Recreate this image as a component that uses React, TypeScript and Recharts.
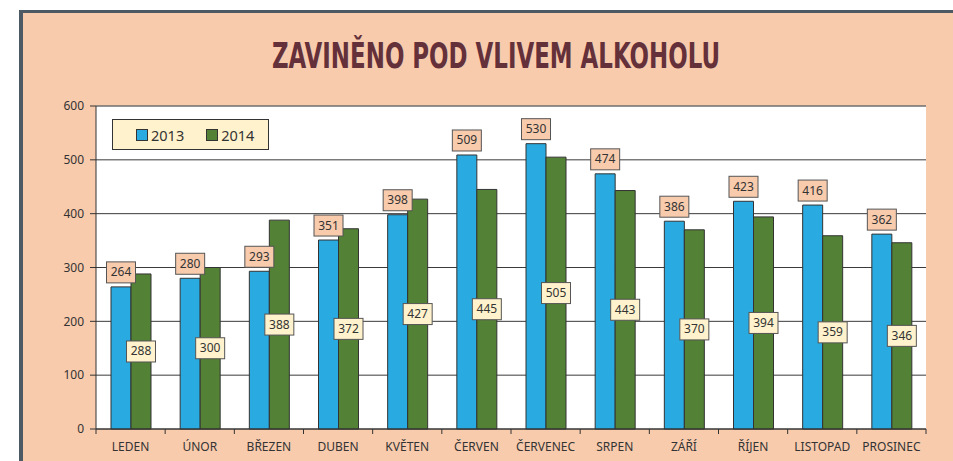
import React from "react";
import {
  BarChart,
  Bar,
  XAxis,
  YAxis,
  CartesianGrid,
  Legend,
  LabelList,
  ReferenceLine,
} from "recharts";

// ---------------------------------------------------------------------------
// Data
// ---------------------------------------------------------------------------

const months = [
  "LEDEN",
  "ÚNOR",
  "BŘEZEN",
  "DUBEN",
  "KVĚTEN",
  "ČERVEN",
  "ČERVENEC",
  "SRPEN",
  "ZÁŘÍ",
  "ŘÍJEN",
  "LISTOPAD",
  "PROSINEC",
];
const values2013 = [264, 280, 293, 351, 398, 509, 530, 474, 386, 423, 416, 362];
const values2014 = [288, 300, 388, 372, 427, 445, 505, 443, 370, 394, 359, 346];
const yTicks = [0, 100, 200, 300, 400, 500, 600];

const title = "ZAVINĚNO POD VLIVEM ALKOHOLU";

const data = months.map((m, i) => ({
  month: m,
  y2013: values2013[i],
  y2014: values2014[i],
}));

// ---------------------------------------------------------------------------
// Styles
// ---------------------------------------------------------------------------

const PEACH = "#F8CBAD";
const CREAM = "#FFF2CC";
const BLUE = "#29ABE2";
const GREEN = "#538135";
const FONT = "'Noto Sans', 'Liberation Sans', sans-serif";

// ---------------------------------------------------------------------------
// Custom pieces
// ---------------------------------------------------------------------------

function TopLabel(props: any) {
  const { x, y, width, value } = props;
  const cx = x + width / 2;
  const w = 29;
  const h = 21;
  const top = y - 4 - h;
  return (
    <g>
      <rect x={cx - w / 2} y={top} width={w} height={h} fill={PEACH} stroke="#555" strokeWidth={1} />
      <text x={cx} y={top + h / 2 + 4} textAnchor="middle" fontSize={12} fontFamily={FONT} fill="#333">
        {value}
      </text>
    </g>
  );
}

function MidLabel(props: any) {
  const { x, y, width, height, value } = props;
  const cx = x + width / 2;
  const cy = y + height / 2;
  const w = 29;
  const h = 21;
  return (
    <g>
      <rect x={cx - w / 2} y={cy - h / 2} width={w} height={h} fill={CREAM} stroke="#555" strokeWidth={1} />
      <text x={cx} y={cy + 4} textAnchor="middle" fontSize={12} fontFamily={FONT} fill="#333">
        {value}
      </text>
    </g>
  );
}

function MonthTick(props: any) {
  const { x, y, payload, index } = props;
  const half = payload?.offset ?? 0;
  const axisY = y - 10;
  return (
    <g>
      <line x1={x - half} x2={x - half} y1={axisY} y2={axisY + 5} stroke="#333" />
      {index === months.length - 1 && (
        <line x1={x + half} x2={x + half} y1={axisY} y2={axisY + 5} stroke="#333" />
      )}
      <text x={x} y={y + 12} textAnchor="middle" fontSize={12} fontFamily={FONT} fill="#333">
        {payload.value}
      </text>
    </g>
  );
}

function LegendBox() {
  const item = (color: string, label: string, gap: number) => (
    <span style={{ display: "inline-flex", alignItems: "center", marginRight: gap, flexShrink: 0 }}>
      <span
        style={{
          display: "inline-block",
          width: 10,
          height: 10,
          background: color,
          border: "1px solid #333",
          marginRight: 3,
        }}
      />
      <span>{label}</span>
    </span>
  );
  return (
    <div
      style={{
        width: 155,
        height: 29,
        boxSizing: "content-box",
        background: CREAM,
        border: "1px solid #333",
        display: "flex",
        alignItems: "center",
        fontFamily: FONT,
        fontSize: 14.5,
        color: "#333",
      }}
    >
      <span style={{ width: 23, flexShrink: 0 }} />
      {item(BLUE, "2013", 22)}
      {item(GREEN, "2014", 0)}
    </div>
  );
}

// ---------------------------------------------------------------------------
// App
// ---------------------------------------------------------------------------

export default function App() {
  return (
    <div
      style={{
        position: "absolute",
        left: 0,
        top: 0,
        width: 953,
        height: 461,
        background: "#fff",
        overflow: "hidden",
      }}
    >
      <div
        style={{
          position: "absolute",
          left: 19,
          top: 10,
          width: 1000,
          height: 500,
          background: PEACH,
          borderTop: "3px solid #4E5A63",
          borderLeft: "4px solid #4E5A63",
        }}
      />
      <svg width={953} height={90} style={{ position: "absolute", left: 0, top: 0 }}>
        <text
          x={496}
          y={68}
          textAnchor="middle"
          fontSize={36}
          fontWeight="bold"
          fontFamily="'DejaVu Sans Condensed', 'DejaVu Sans', sans-serif"
          fill="#64303A"
          textLength={448}
          lengthAdjust="spacingAndGlyphs"
        >
          {title}
        </text>
      </svg>
      <div style={{ position: "absolute", left: 0, top: 0 }}>
        <BarChart
          width={953}
          height={461}
          data={data}
          margin={{ top: 106, right: 27, bottom: 0, left: 0 }}
          barGap={0}
          barSize={20}
        >
          <CartesianGrid vertical={false} stroke="#3a3a3a" fill="#fff" />
          <XAxis
            dataKey="month"
            height={32}
            axisLine={{ stroke: "#333" }}
            tickLine={false}
            tickSize={6}
            tickMargin={4}
            interval={0}
            tick={<MonthTick />}
          />
          <YAxis
            width={96}
            domain={[0, 600]}
            ticks={yTicks}
            axisLine={{ stroke: "#333" }}
            tickLine={{ stroke: "#333" }}
            tickSize={6}
            tickMargin={6}
            tick={{ fontSize: 12, fill: "#333", fontFamily: FONT }}
          />
          <YAxis
            yAxisId="r"
            orientation="right"
            width={0}
            tick={false}
            tickLine={false}
            axisLine={{ stroke: "#888" }}
          />
          <ReferenceLine y={600} stroke="#888" />
          <Legend
            layout="horizontal"
            verticalAlign="middle"
            align="center"
            content={<LegendBox />}
            wrapperStyle={{ position: "absolute", left: 112, top: 119, width: 160, height: 32 }}
          />
          <Bar dataKey="y2013" name="2013" fill={BLUE} stroke="#333" strokeWidth={1} isAnimationActive={false}>
            <LabelList dataKey="y2013" content={<TopLabel />} />
          </Bar>
          <Bar dataKey="y2014" name="2014" fill={GREEN} stroke="#333" strokeWidth={1} isAnimationActive={false}>
            <LabelList dataKey="y2014" content={<MidLabel />} />
          </Bar>
        </BarChart>
      </div>
    </div>
  );
}
